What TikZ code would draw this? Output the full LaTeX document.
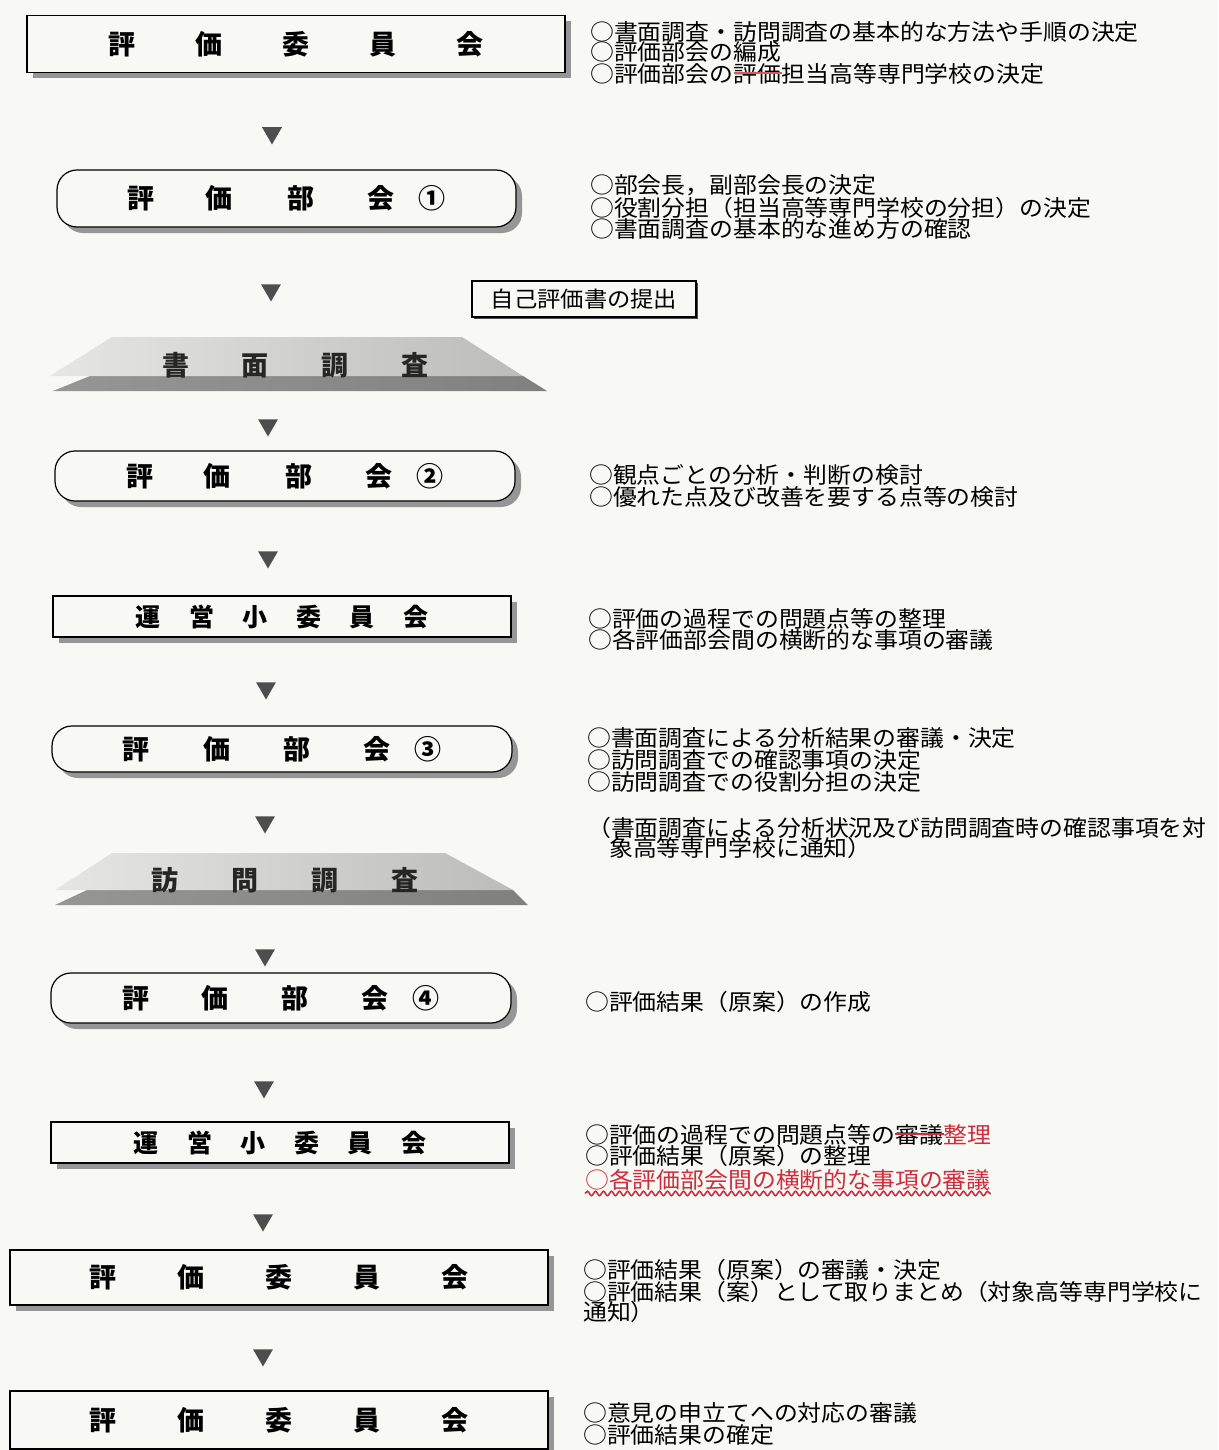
\documentclass[tikz,border=0pt]{standalone}
\usepackage{fontspec}
\usetikzlibrary{shapes.geometric,shadows,decorations.pathmorphing}
\newfontfamily\jp[FakeStretch=1.06]{Noto Sans CJK JP}
\newfontfamily\jpb{Noto Sans CJK JP}
\definecolor{paper}{RGB}{248,248,244}
\definecolor{shade}{RGB}{150,150,150}
\definecolor{tricol}{RGB}{78,78,78}
\definecolor{redmark}{RGB}{205,45,60}
\definecolor{slablight}{RGB}{230,230,228}
\definecolor{slabmid}{RGB}{188,188,186}
\definecolor{slabdark}{RGB}{150,150,148}
\definecolor{slabdarker}{RGB}{128,128,126}
\begin{document}
\begin{tikzpicture}[x=1pt,y=-1pt,
  rbox/.style={draw, line width=1.2pt, fill=paper, inner sep=0pt,
    drop shadow={shadow xshift=6pt, shadow yshift=-6pt, fill=shade, opacity=1},
    font=\jpb\bfseries\fontsize{27}{27}\selectfont},
  pill/.style={rbox, rounded corners=20pt},
  tridown/.style={regular polygon, regular polygon sides=3, shape border rotate=180,
    fill=tricol, minimum size=23pt, inner sep=0pt},
  note/.style={anchor=west, inner sep=0pt, font=\jp\fontsize{22.5}{21}\selectfont,
    text height=19.8pt, text depth=2.7pt},
  slabtext/.style={inner sep=0pt, text=black!85, font=\jpb\bfseries\fontsize{27}{27}\selectfont}
]
\useasboundingbox[fill=paper] (0,0) rectangle (1218,1450);

% ---------- left column boxes ----------
\node[rbox, minimum width=538pt, minimum height=57pt] (c1) at (296,44)
  {評\hspace{60pt}価\hspace{60pt}委\hspace{60pt}員\hspace{60pt}会};
\node[tridown] (t1) at (272,133) {};

\node[pill, minimum width=459pt, minimum height=57pt] (p1) at (286.5,198.5)
  {評\hspace{51pt}価\hspace{55pt}部\hspace{53pt}会\hspace{24pt}①};
\node[tridown] (t2) at (271,290) {};

\node[draw, line width=1.6pt, fill=paper, minimum width=224pt, minimum height=36pt, inner sep=0pt,
  drop shadow={shadow xshift=1.5pt, shadow yshift=-1.5pt, fill=black!70, opacity=1},
  font=\jp\fontsize{22}{22}\selectfont] (self) at (584,299) {自己評価書の提出};

% slab: 書面調査
\shade[left color=slabdark, right color=slabdarker] (90,376) -- (523,376) -- (547,391) -- (53,391) -- cycle;
\shade[left color=slablight, right color=slabmid] (112,337) -- (462,337) -- (523,376) -- (50,376) -- cycle;
\node[slabtext] (s1) at (295.5,365)
  {書\hspace{53pt}面\hspace{53pt}調\hspace{53pt}査};
\node[tridown] (t3) at (268,425) {};

\node[pill, minimum width=460pt, minimum height=50pt] (p2) at (285,476)
  {評\hspace{51pt}価\hspace{55pt}部\hspace{53pt}会\hspace{24pt}②};
\node[tridown] (t4) at (268,557) {};

\node[rbox, minimum width=458pt, minimum height=41pt, font=\jpb\bfseries\fontsize{25}{25}\selectfont] (u1) at (282,616.5)
  {運\hspace{28.6pt}営\hspace{28.6pt}小\hspace{28.6pt}委\hspace{28.6pt}員\hspace{28.6pt}会};
\node[tridown] (t5) at (266,688) {};

\node[pill, minimum width=460pt, minimum height=46pt] (p3) at (282,749)
  {評\hspace{54pt}価\hspace{53pt}部\hspace{53pt}会\hspace{24pt}③};
\node[tridown] (t6) at (265,822) {};

% slab: 訪問調査
\shade[left color=slabdark, right color=slabdarker] (87,890) -- (513,890) -- (528,905) -- (55,905) -- cycle;
\shade[left color=slablight, right color=slabmid] (112,853) -- (445,853) -- (513,890) -- (55,890) -- cycle;
\node[slabtext] (s2) at (285,880)
  {訪\hspace{53pt}問\hspace{53pt}調\hspace{53pt}査};
\node[tridown] (t7) at (265,955) {};

\node[pill, minimum width=460pt, minimum height=50pt] (p4) at (281,998)
  {評\hspace{53pt}価\hspace{53pt}部\hspace{53pt}会\hspace{24pt}④};
\node[tridown] (t8) at (264,1087) {};

\node[rbox, minimum width=458pt, minimum height=41pt, font=\jpb\bfseries\fontsize{25}{25}\selectfont] (u2) at (280,1142.5)
  {運\hspace{28.6pt}営\hspace{28.6pt}小\hspace{28.6pt}委\hspace{28.6pt}員\hspace{28.6pt}会};
\node[tridown] (t9) at (263,1220) {};

\node[rbox, minimum width=538pt, minimum height=55pt] (c2) at (279,1277.5)
  {評\hspace{61pt}価\hspace{61pt}委\hspace{61pt}員\hspace{61pt}会};
\node[tridown] (t10) at (263,1355) {};

\node[rbox, minimum width=538pt, minimum height=58pt] (c3) at (279,1420)
  {評\hspace{61pt}価\hspace{61pt}委\hspace{61pt}員\hspace{61pt}会};

% ---------- right column notes ----------
\node[note] (a1) at (590,32) {○書面調査・訪問調査の基本的な方法や手順の決定};
\node[note] (a2) at (590,52) {○評価部会の編成};
\node[note] (a3) at (590,74) {○評価部会の};
\node[note] (a3s) at (a3.east) {評価};
\node[note] (a3e) at (a3s.east) {担当高等専門学校の決定};
\draw[redmark!80, line width=1.4pt] ([yshift=1pt]a3s.west) -- ([yshift=1pt]a3s.east);

\node[note] (b1) at (590,185) {○部会長，副部会長の決定};
\node[note] (b2) at (590,208) {○役割分担（担当高等専門学校の分担）の決定};
\node[note] (b3) at (590,229) {○書面調査の基本的な進め方の確認};

\node[note] (d1) at (589,475) {○観点ごとの分析・判断の検討};
\node[note] (d2) at (589,497) {○優れた点及び改善を要する点等の検討};

\node[note] (e1) at (588,619) {○評価の過程での問題点等の整理};
\node[note] (e2) at (588,640) {○各評価部会間の横断的な事項の審議};

\node[note] (f1) at (587,738) {○書面調査による分析結果の審議・決定};
\node[note] (f2) at (587,760) {○訪問調査での確認事項の決定};
\node[note] (f3) at (587,782) {○訪問調査での役割分担の決定};

\node[note] (g1) at (587,828) {（書面調査による分析状況及び訪問調査時の確認事項を対};
\node[note] (g2) at (609,848) {象高等専門学校に通知）};

\node[note] (h1) at (585,1002) {○評価結果（原案）の作成};

\node[note] (k1) at (585,1135) {○評価の過程での問題点等の};
\node[note] (k1s) at (k1.east) {審議};
\node[note, text=redmark] (k1r) at (k1s.east) {整理};
\draw[redmark, line width=1.4pt] ([yshift=1pt]k1s.west) -- ([yshift=1pt]k1s.east);
\node[note] (k2) at (585,1156) {○評価結果（原案）の整理};
\node[note, text=redmark] (k3) at (585,1180) {○各評価部会間の横断的な事項の審議};
\draw[redmark, line width=1.6pt, decorate, decoration={snake, amplitude=2.2pt, segment length=8pt}]
  ([yshift=-2pt]k3.south west) -- ([yshift=-2pt]k3.south east);

\node[note] (m1) at (583,1270) {○評価結果（原案）の審議・決定};
\node[note] (m2) at (583,1292) {○評価結果（案）として取りまとめ（対象高等専門学校に};
\node[note] (m3) at (583,1312) {通知）};

\node[note] (n1) at (583,1413) {○意見の申立てへの対応の審議};
\node[note] (n2) at (583,1435) {○評価結果の確定};
\end{tikzpicture}
\end{document}
